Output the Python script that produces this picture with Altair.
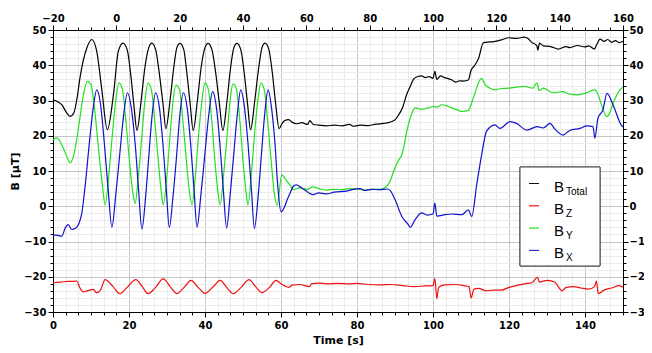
import altair as alt
import pandas as pd

# ---------------- data ----------------
t_total = [0, 1, 2.3, 3.6, 4.5, 5.5, 6.3, 7.1, 8, 8.9, 10.2, 11.5, 12.8, 14.3,
           15.9, 17.2, 18.4, 19.5, 20.5, 21.3, 22.1, 23.2, 24.2, 25.2, 26, 27, 28, 29, 29.7,
           30.8, 31.8, 32.6, 33.4, 34.4, 35.2, 36.1, 36.9, 38, 39, 40, 40.8, 41.8, 42.8, 43.8,
           44.7, 45.8, 46.7, 47.6, 48.4, 49.4, 50.3, 51.2, 52, 53.1, 54.1, 55, 55.8, 56.8,
           57.7, 58.6, 59.5, 60.3, 61, 62, 63, 64, 65.5, 67, 67.6, 68.5, 70, 72, 74, 76, 78,
           79, 81, 83, 85, 87, 88.5, 90, 91, 92, 93, 94, 95, 96, 97, 98, 99, 100, 100.5, 101,
           102, 103, 104, 105, 106, 107, 108, 109.3, 110, 111, 112, 113.2, 114, 116, 118, 120,
           122, 124, 125, 126, 127.3, 127.6, 128, 129, 131, 133, 135, 136, 138, 140, 141,
           142.5, 143, 144, 145, 146, 147, 148, 149, 150]
b_total = [30.2, 29.8, 28.8, 26.5, 25.5, 26.5, 30.5, 36.4, 41.5, 44.9, 47.3, 44.0, 33.5, 21.7,
           31.6, 44.0, 46.3, 44.5, 37.0, 28.5, 21.5, 30.0, 39.5, 45.0, 46.3, 44.5, 37.5, 28.5, 22.0,
           30.0, 39.5, 45.0, 46.2, 44.5, 38.0, 29.0, 21.5, 30.0, 39.5, 45.0, 46.2, 44.5, 38.0, 29.0,
           21.5, 30.0, 39.0, 45.0, 46.2, 44.5, 38.0, 29.0, 21.7, 30.0, 39.0, 45.0, 46.3, 44.5,
           38.0, 29.0, 22.0, 23.5, 24.3, 24.6, 23.8, 23.4, 23.7, 23.2, 24.3, 23.2, 23.0, 22.8,
           23.0, 22.8, 23.2, 22.7, 23.0, 22.9, 23.3, 23.5, 23.8, 24.5, 26.0, 28.0, 31.5, 34.0,
           36.2, 36.8, 37.0, 36.5, 36.8, 36.3, 38.3, 36.0, 37.0, 36.5, 36.2, 35.8, 35.2, 35.6,
           35.5, 35.8, 38.5, 40.0, 42.0, 46.3, 46.5, 46.7, 47.2, 47.8, 47.6, 48.0, 47.6, 46.5,
           45.6, 44.3, 46.3, 45.5, 45.3, 44.6, 45.3, 45.0, 45.6, 45.2, 45.5, 44.6, 45.7, 47.4,
           46.8, 47.3, 46.5, 47.0, 46.4, 46.8]

t_z = [0, 2, 4, 5.4, 6.3, 7, 8, 9, 10.6, 11.5, 12.5, 13.7, 15.8, 17.6, 19.5, 21.8, 23.5, 25,
       27, 29, 31, 32.6, 34.5, 36.3, 38.2, 40, 42, 44, 45.7, 47.4, 49.5, 51.6, 53.3, 55, 57,
       58.7, 60, 61, 62, 63, 65, 67.5, 68, 70, 72, 75, 78, 80, 83, 86, 89, 92, 95, 98, 100,
       100.5, 101, 101.5, 103, 106, 108, 109.5, 110, 110.8, 112, 114, 116, 118, 120, 122, 124,
       126, 127.5, 128, 130, 132, 134, 135, 137, 139, 141, 142.5, 143, 143.5, 145, 147, 149, 150]
b_z = [-21.7, -21.5, -21.3, -21.3, -21.2, -23.0, -24.3, -24.0, -23.6, -24.5, -23.8, -20.8,
       -22.8, -24.8, -23.0, -20.8, -22.8, -24.8, -23.0, -20.6, -23.0, -24.8, -23.0, -21.0,
       -23.0, -24.7, -23.0, -21.0, -23.0, -24.8, -23.0, -20.8, -22.8, -24.5, -23.0, -21.0,
       -22.0, -22.6, -23.0, -22.4, -22.2, -22.8, -22.0, -21.8, -22.0, -21.9, -22.0, -21.9,
       -22.2, -22.3, -22.2, -22.5, -22.8, -22.6, -22.5, -20.5, -26.2, -23.0, -22.3, -22.2,
       -22.5, -22.8, -26.0, -23.5, -23.3, -24.0, -23.8, -23.8, -23.0, -22.5, -22.0, -21.7,
       -20.2, -21.5, -21.0, -21.5, -24.0, -23.0, -22.8, -23.2, -23.5, -22.8, -21.2, -24.8,
       -23.8, -23.2, -22.5, -23.0]

t_y = [0, 1, 2.7, 4, 4.5, 5.4, 6.7, 8, 9.1, 10, 11, 12, 13, 13.7, 14.7, 15.6, 16.5, 17.4,
       18.3, 19.2, 20.1, 21, 21.6, 22.5, 23.4, 24.2, 25, 25.9, 26.8, 27.7, 28.5, 29, 30, 30.8,
       31.6, 32.4, 33.3, 34.2, 35.1, 35.9, 36.6, 37.5, 38.3, 39.2, 40, 40.9, 41.8, 42.6, 43.4,
       44, 44.9, 45.8, 46.6, 47.4, 48.3, 49.2, 50, 50.8, 51.3, 52.2, 53, 53.9, 54.7, 55.6,
       56.5, 57.4, 58.2, 59, 60.2, 61.5, 62.5, 63.2, 65, 67, 68.4, 70, 72, 74, 76, 78, 80, 82,
       84, 86, 87.5, 88.7, 89.5, 90.8, 91.8, 93.5, 94.5, 95.3, 97, 98.8, 100, 101, 102.3, 104,
       106, 107.6, 109.3, 110.6, 112.4, 112.8, 113.7, 115, 116.3, 118, 120, 122, 124, 126.3,
       127.3, 128, 129, 131.6, 134, 136, 137.8, 140, 142.6, 143.5, 144.5, 145.8, 146.5,
       147.4, 149.2, 150]
b_y = [18.9, 19.4, 16.5, 13.2, 12.3, 14.2, 22.2, 31.6, 35.4, 34.5, 27.0, 16.0, 6.0, 0.4,
       9.0, 20.0, 30.0, 35.0, 33.0, 24.0, 13.0, 4.0, 0.8, 9.0, 20.0, 30.0, 35.0, 33.0, 24.0,
       13.0, 4.0, 0.4, 9.0, 20.0, 30.0, 34.4, 33.0, 24.0, 13.0, 4.0, 0.4, 9.0, 20.0, 30.0,
       35.0, 33.0, 24.0, 13.0, 4.0, 0.4, 9.0, 20.0, 30.0, 34.7, 33.0, 24.0, 13.0, 4.0, 0.4,
       9.0, 20.0, 30.0, 35.0, 33.0, 24.0, 13.0, 4.0, 0.3, 8.9, 7.2, 5.8, 4.7, 5.2, 4.8, 5.5,
       5.0, 4.6, 4.8, 4.7, 5.0, 4.9, 4.6, 4.8, 4.8, 5.4, 7.1, 9.5, 12.8, 14.6, 23.1, 26.5,
       27.9, 27.5, 27.9, 28.3, 28.1, 28.8, 28.3, 27.5, 26.9, 27.2, 30.7, 35.9, 36.3, 34.5,
       33.5, 33.0, 33.4, 33.5, 33.8, 34.0, 33.5, 35.0, 32.8, 33.5, 32.2, 32.5, 31.8, 31.6,
       32.0, 33.0, 31.5, 28.2, 25.4, 26.5, 29.2, 33.0, 33.8]

t_x = [0, 1, 2.3, 3.2, 4, 4.9, 6, 7.5, 8.4, 9.7, 10.6, 11.5, 12.5, 13.5, 14.5, 15.5, 16.5,
       17.5, 18.6, 19.6, 20.6, 21.6, 22.5, 23.4, 24.4, 25.2, 26.1, 27, 28, 28.9, 29.8, 30.6,
       31.6, 32.5, 33.4, 34.3, 35.3, 36.2, 37.1, 37.9, 38.9, 39.9, 41, 42, 43, 43.9, 44.8,
       45.7, 46.6, 47.5, 48.5, 49.4, 50.4, 51.3, 52.2, 53, 54, 54.8, 55.7, 56.6, 57.5, 58.4,
       59.2, 60, 61, 61.5, 62.5, 63.2, 64, 65, 66, 68.4, 70, 72, 74, 77.3, 79, 80.8, 82, 84,
       86, 88, 88.7, 90, 91.8, 93.5, 94, 95.3, 97, 98.5, 100, 100.5, 101, 103.2, 105, 107.6,
       109.3, 110.2, 111.5, 112.8, 114.1, 116.3, 117.6, 120.3, 122, 124.7, 127.4, 129, 130.8,
       132, 134.2, 136, 138.7, 140.5, 142.1, 142.6, 143.4, 144.7, 145.8, 147.4, 149.7, 150]
b_x = [-8.1, -8.2, -8.5, -6.2, -5.2, -6.6, -6.2, -2.4, 5.2, 19.4, 28.0, 33.0, 29.0, 18.0,
       5.0, -5.9, 3.0, 14.0, 26.0, 32.2, 28.0, 18.0, 5.0, -6.5, 3.0, 14.0, 26.0, 32.2, 28.0,
       18.0, 5.0, -6.0, 3.0, 14.0, 26.0, 32.2, 28.0, 18.0, 5.0, -5.9, 3.0, 14.0, 26.0, 32.5,
       28.0, 18.0, 5.0, -6.2, 3.0, 14.0, 26.0, 33.0, 28.0, 18.0, 5.0, -6.3, 3.0, 14.0, 26.0,
       33.0, 28.0, 18.0, 5.0, -1.6, 0.0, 1.5, 4.0, 5.6, 6.1, 5.5, 4.8, 3.3, 3.8, 3.5, 4.0,
       4.3, 4.8, 5.0, 4.5, 4.8, 4.7, 4.9, 4.5, 1.9, -2.9, -5.2, -6.0, -3.8, -1.9, -2.5, -2.2,
       0.9, -2.8, -2.4, -2.2, -2.4, -1.0, -2.9, 6.1, 14.6, 21.3, 23.1, 22.1, 24.0, 23.5, 21.6,
       22.6, 22.2, 23.5, 22.0, 20.2, 21.5, 22.1, 22.8, 22.6, 19.3, 25.0, 27.3, 32.0, 28.7,
       22.8, 22.5]

series_names = ["Total", "Z", "Y", "X"]
series_colors = ["#000000", "#ee1111", "#22e022", "#1212cc"]

# top / right axis ranges
top_range = [-20, 160]
y_range = [-30, 50]
x_range = [0, 150]

rows = []
for name, ts, vs in zip(series_names, [t_total, t_z, t_y, t_x], [b_total, b_z, b_y, b_x]):
    for t, v in zip(ts, vs):
        rows.append({"t": t, "b": v, "s": name})
df = pd.DataFrame(rows)
frame_df = pd.DataFrame({"t2": top_range, "b2": y_range})

# ---------------- axes helpers ----------------
m20 = "abs(datum.value/20 - round(datum.value/20)) < 0.001"
m10 = "abs(datum.value/10 - round(datum.value/10)) < 0.001"
bottom_vals = [round(k * 10 / 3, 4) for k in range(46)]
top_vals = list(range(-20, 161, 4))
y_vals = list(range(-30, 51, 2))

lab20 = f"({m20}) ? format(round(datum.value), 'd') : ''"
lab10 = f"({m10}) ? format(round(datum.value), 'd') : ''"

common = dict(labelFont="DejaVu Sans", labelFontWeight="bold", labelFontSize=10,
              labelColor="black", domainColor="black", tickColor="black",
              titleFont="DejaVu Sans", titleFontWeight="bold", titleFontSize=11,
              titleColor="black", labelFlush=False, labelOverlap=False)

x_axis = alt.Axis(values=bottom_vals, labelExpr=lab20, title="Time [s]",
                  tickSize={"condition": {"test": m20, "value": 5}, "value": 3},
                  grid=True,
                  gridColor={"condition": {"test": m20, "value": "#c6c6c6"}, "value": "#ebebeb"},
                  labelPadding=3, titlePadding=4, **common)
y_axis = alt.Axis(values=y_vals, labelExpr=lab10, title="B [μT]",
                  tickSize={"condition": {"test": m10, "value": 5}, "value": 3},
                  grid=True,
                  gridColor={"condition": {"test": m10, "value": "#c6c6c6"}, "value": "#ebebeb"},
                  labelPadding=2, titlePadding=3, **common)
top_axis = alt.Axis(orient="top", values=top_vals, labelExpr=lab20, title=None,
                    tickSize={"condition": {"test": m20, "value": 5}, "value": 3},
                    grid=False, labelPadding=2, **common)
right_axis = alt.Axis(orient="right", values=y_vals, labelExpr=lab10, title=None,
                      tickSize={"condition": {"test": m10, "value": 5}, "value": 3},
                      grid=False, labelPadding=1, **common)

lines = alt.Chart(df).mark_line(strokeWidth=1.2, interpolate="monotone").encode(
    x=alt.X("t:Q", scale=alt.Scale(domain=x_range, nice=False, zero=False), axis=x_axis),
    y=alt.Y("b:Q", scale=alt.Scale(domain=y_range, nice=False, zero=False), axis=y_axis),
    color=alt.Color("s:N", scale=alt.Scale(domain=series_names, range=series_colors), legend=None),
    order=alt.Order("t:Q"),
)

frame = alt.Chart(frame_df).mark_point(opacity=0).encode(
    x=alt.X("t2:Q", scale=alt.Scale(domain=top_range, nice=False, zero=False), axis=top_axis),
    y=alt.Y("b2:Q", scale=alt.Scale(domain=y_range, nice=False, zero=False), axis=right_axis),
)

# ---------------- legend (box with subscripted labels) ----------------
box_x, box_y, box_w, box_h = 467, 137, 80, 99
row0, row_step = 153.5, 22.3
layers = [lines, frame]
layers.append(alt.Chart(frame_df).mark_rect(fill="white", stroke="#444444", strokeWidth=1).encode(
    x=alt.value(box_x), x2=alt.value(box_x + box_w),
    y=alt.value(box_y), y2=alt.value(box_y + box_h)))
for i, (name, col) in enumerate(zip(series_names, series_colors)):
    yc = row0 + row_step * i
    layers.append(alt.Chart(frame_df).mark_rule(color=col, strokeWidth=1, opacity=0.75).encode(
        x=alt.value(box_x + 9), x2=alt.value(box_x + 19), y=alt.value(yc)))
    layers.append(alt.Chart(frame_df.head(1)).mark_text(
        text="B", font="Liberation Sans", fontSize=15, align="left", baseline="alphabetic",
        color="black").encode(x=alt.value(box_x + 34), y=alt.value(yc + 8)))
    layers.append(alt.Chart(frame_df.head(1)).mark_text(
        text=name, font="Liberation Sans", fontSize=10, align="left", baseline="alphabetic",
        color="black").encode(x=alt.value(box_x + 46), y=alt.value(yc + 11)))

chart = alt.layer(*layers).resolve_scale(x="independent", y="independent").properties(
    width=570, height=282,
    autosize=alt.AutoSizeParams(type="none"),
    padding={"left": 45, "top": 22, "right": 21, "bottom": 35},
).configure_view(stroke=None)

chart.save("out.html", embed_options={"renderer": "svg", "actions": False})
